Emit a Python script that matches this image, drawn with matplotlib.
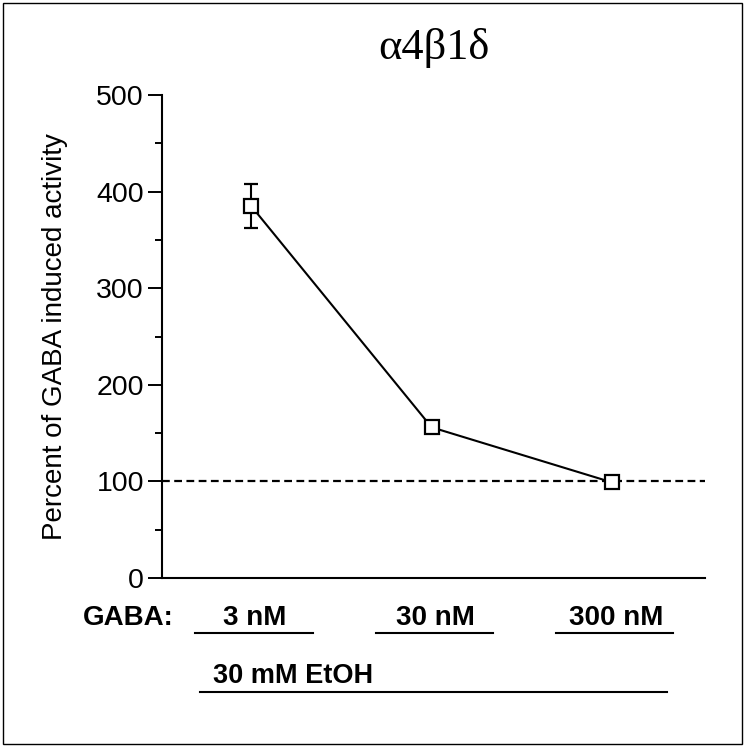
import matplotlib
matplotlib.use("Agg")
import matplotlib.pyplot as plt
from matplotlib.patches import Rectangle
from matplotlib.lines import Line2D
from matplotlib.ticker import MultipleLocator
import matplotlib.transforms as mtransforms

# data
conc_labels = ["3 nM", "30 nM", "300 nM"]
xpos = [1, 2, 3]
percent = [385, 156, 99]
sem = [23, 5, 4]
baseline = 100

sans = ["Liberation Sans", "DejaVu Sans"]

fig = plt.figure(figsize=(7.45, 7.47), dpi=100)
ax = fig.add_axes([0.2174, 0.2262, 0.7289, 0.6466])

# dashed 100% line
ax.axhline(baseline, color="black", lw=1.6, ls=(0, (3.5, 2.0)), zorder=1)

ax.errorbar(xpos, percent, yerr=sem, color="black", lw=1.5,
            marker="s", ms=10, mfc="white", mec="black", mew=1.6,
            capsize=5.3, capthick=1.5, elinewidth=1.5, zorder=3)

ax.set_xlim(0.505, 3.515)
ax.set_ylim(0, 500)
ax.yaxis.set_major_locator(MultipleLocator(100))
ax.yaxis.set_minor_locator(MultipleLocator(50))
ax.set_xticks([])
ax.spines["top"].set_visible(False)
ax.spines["right"].set_visible(False)
ax.spines["left"].set_linewidth(1.5)
ax.spines["bottom"].set_linewidth(1.5)
ax.tick_params(axis="y", which="major", length=10, width=1.4, labelsize=20.5, pad=3)
ax.tick_params(axis="y", which="minor", length=5, width=1.4)
for lab in ax.get_yticklabels():
    lab.set_family(sans)

ax.set_ylabel("Percent of GABA induced activity", fontsize=20, family=sans)
ax.yaxis.set_label_coords(-0.173, 0.5)

ax.text(0.5, 1.097, "\u03b14\u03b21\u03b4", transform=ax.transAxes, ha="center", va="center",
        fontsize=32, family=["Liberation Serif", "DejaVu Serif"])

# labels under the x axis
trans = mtransforms.blended_transform_factory(ax.transData, ax.transAxes)
ax.text(0.32, -0.083, "GABA:", transform=trans, ha="center", va="center",
        fontsize=20, fontweight="bold", family=sans, clip_on=False)
for x, lab in zip(xpos, conc_labels):
    ax.text(x + 0.02, -0.083, lab, transform=trans, ha="center", va="center",
            fontsize=20, fontweight="bold", family=sans, clip_on=False)
    ax.add_line(Line2D([x - 0.31, x + 0.34], [-0.114, -0.114], transform=trans,
                       color="black", lw=1.5, clip_on=False))
ax.text(0.79, -0.203, "30 mM EtOH", transform=trans, ha="left", va="center",
        fontsize=19.5, fontweight="bold", family=sans, clip_on=False)
ax.add_line(Line2D([0.717, 3.305], [-0.236, -0.236], transform=trans,
                   color="black", lw=1.5, clip_on=False))

# frame round the whole figure
fig.patches.append(Rectangle((0.004, 0.004), 0.992, 0.992, transform=fig.transFigure,
                             fill=False, edgecolor="black", lw=1.0))

fig.savefig("out.png", dpi=100)
